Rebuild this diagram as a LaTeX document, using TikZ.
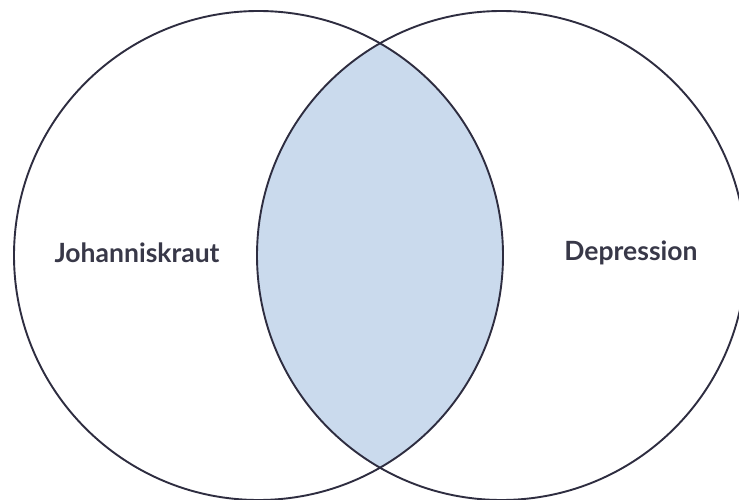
\documentclass[tikz,border=0pt]{standalone}
\usepackage{fontspec}
\setmainfont{Lato}
\definecolor{linec}{HTML}{2E2D40}
\definecolor{lensc}{HTML}{CADAED}
\definecolor{textc}{HTML}{383848}
\begin{document}
\begin{tikzpicture}[x=1pt,y=1pt,
  vcircle/.style={draw=linec,line width=1.9pt},
  lbl/.style={text=textc,font=\fontsize{26.5}{30}\selectfont\bfseries,anchor=center}]
\clip (0,0) rectangle (739,499);
\fill[white] (0,0) rectangle (739,499);
\coordinate (c1) at (258.5,243.5);
\coordinate (c2) at (501.5,243.5);
\begin{scope}
  \clip (c1) circle[radius=244.5];
  \fill[lensc] (c2) circle[radius=244.5];
\end{scope}
\draw[vcircle] (c1) circle[radius=244.5];
\draw[vcircle] (c2) circle[radius=244.5];
\node[lbl] (a) at (137,246) {Johanniskraut};
\node[lbl] (b) at (631,246) {Depression};
\end{tikzpicture}
\end{document}
